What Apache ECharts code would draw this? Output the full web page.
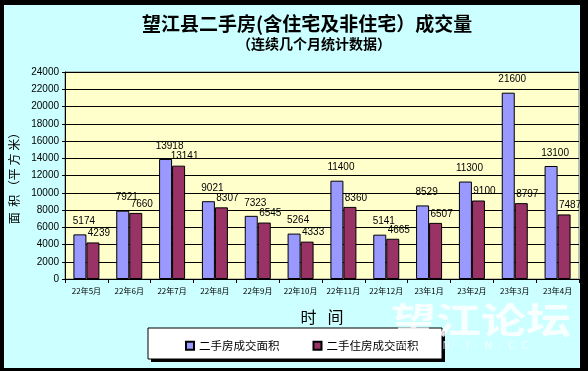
<!DOCTYPE html>
<html><head><meta charset="utf-8">
<script src="https://cdn.jsdelivr.net/npm/echarts@6/dist/echarts.min.js"></script>
<style>html,body{margin:0;padding:0;background:#000}#c{width:588px;height:371px}</style>
</head><body><div id="c"></div>
<script>
const categories = ['22年5月','22年6月','22年7月','22年8月','22年9月','22年10月','22年11月','22年12月','23年1月','23年2月','23年3月','23年4月'];
const totalArea = [5174,7921,13918,9021,7323,5264,11400,5141,8529,11300,21600,13100];
const residentialArea = [4239,7660,13141,8307,6545,4333,8360,4665,6507,9100,8797,7487];
const seriesNames = ['二手房成交面积','二手住房成交面积'];
const yMin = 0, yMax = 24000, yStep = 2000;

const chart = echarts.init(document.getElementById('c'), null, {renderer:'canvas'});
const cjk = '"Noto Sans CJK SC", "Liberation Sans", sans-serif';
const num = '"Liberation Sans", "DejaVu Sans", sans-serif';
chart.setOption({
  backgroundColor:'#000000',
  animation:false,
  graphic:[
    {type:'rect', z:-10, shape:{x:4,y:5,width:576,height:363}, style:{fill:'#ccffff'}},
    {type:'rect', z:-5, shape:{x:151,y:331,width:294,height:31}, style:{fill:'#000000'}},
    {type:'rect', z:-4, shape:{x:148,y:328,width:294,height:31}, style:{fill:'#ffffff', stroke:'#000000', lineWidth:1}},
    {type:'text', z:-3, x:391, y:302, scaleX:1.25, style:{text:'望江论坛', font:'bold 36px "Noto Sans CJK SC"', fill:'rgba(255,255,255,0.85)'}},
    {type:'text', z:50, left:398, top:341, style:{text:'W  ·  J  ·  N  ·  I  ·  N  ·  C  C', font:'10px "DejaVu Sans"', fill:'rgba(255,255,255,0.75)'}},
    {type:'text', left:142, top:14, style:{text:'望江县二手房(含住宅及非住宅）成交量', font:'bold 19px "Noto Sans CJK SC"', fill:'#000'}},
    {type:'text', left:237, top:37, style:{text:'（连续几个月统计数据）', font:'bold 14px "Noto Sans CJK SC"', fill:'#000'}}
  ],
  grid:{left:65, right:9, top:72, bottom:92, show:true, backgroundColor:'#ffffcc', borderColor:'#808080', borderWidth:1},
  legend:{
    left:180, top:335, itemWidth:8, itemHeight:8, itemGap:33, icon:'rect',
    textStyle:{fontFamily:cjk, fontSize:11.5, color:'#000'},
    data:seriesNames
  },
  xAxis:{
    type:'category', data:categories,
    name:'时   间', nameLocation:'middle', nameGap:30,
    nameTextStyle:{fontFamily:cjk, fontSize:16, color:'#000'},
    axisLine:{lineStyle:{color:'#000', width:1}},
    axisTick:{show:true, length:4, lineStyle:{color:'#000'}},
    axisLabel:{fontFamily:cjk, fontSize:8, color:'#000', margin:8, interval:0}
  },
  yAxis:{
    type:'value', min:yMin, max:yMax, interval:yStep,
    name:'面  积 （平 方 米）', nameLocation:'middle', nameGap:41, nameRotate:90,
    nameTextStyle:{fontFamily:cjk, fontSize:12, color:'#000'},
    axisLine:{show:true, lineStyle:{color:'#000', width:1}},
    axisTick:{show:true, length:3, lineStyle:{color:'#000'}},
    axisLabel:{fontFamily:num, fontSize:10, color:'#000', margin:6, formatter:(v)=>String(v)},
    splitLine:{lineStyle:{color:'#000', width:1}}
  },
  series:[
    {name:seriesNames[0], type:'bar', data:totalArea, barWidth:13, barGap:'0%',
     itemStyle:{color:'#9999ff', borderColor:'#000', borderWidth:1},
     label:{show:true, position:'top', distance:8, offset:[4,0], fontFamily:num, fontSize:10, color:'#000', formatter:(p)=>String(p.value)}},
    {name:seriesNames[1], type:'bar', data:residentialArea, barWidth:13,
     itemStyle:{color:'#993366', borderColor:'#000', borderWidth:1},
     label:{show:true, position:'top', distance:4, offset:[6,0], fontFamily:num, fontSize:10, color:'#000', formatter:(p)=>String(p.value)}}
  ]
});
</script></body></html>
